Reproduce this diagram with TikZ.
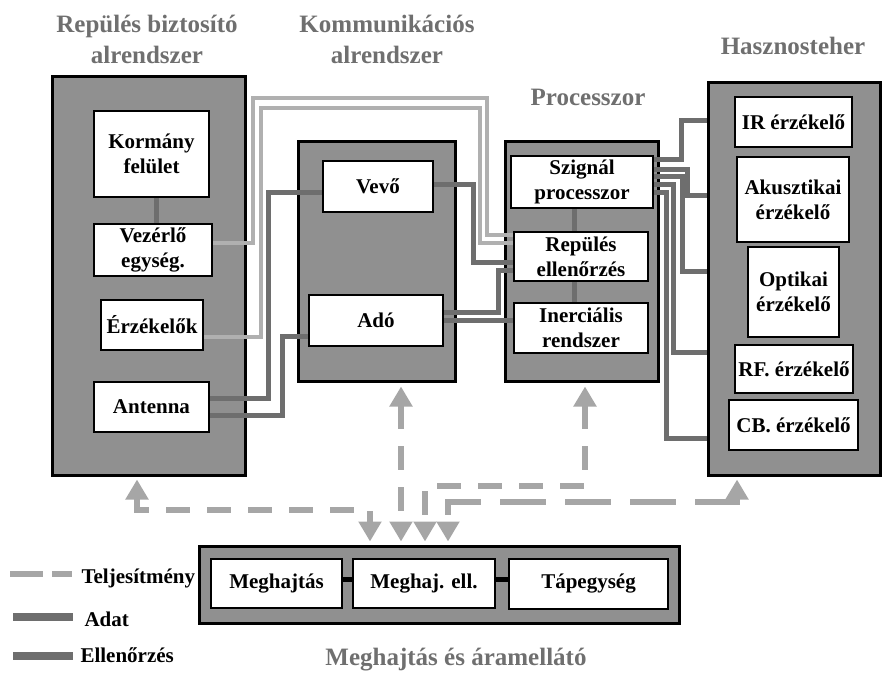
\documentclass[tikz,border=0pt]{standalone}
\usepackage{fontspec}
\setmainfont{Liberation Serif}
\usetikzlibrary{arrows.meta}
\definecolor{boxgray}{HTML}{909090}
\definecolor{darkline}{HTML}{6E6E6E}
\definecolor{lightline}{HTML}{B0B0B0}
\definecolor{powgray}{HTML}{A6A6A6}
\definecolor{titlegray}{HTML}{6F6F6F}
\begin{document}
\begin{tikzpicture}[x=1pt,y=-1pt,
  outerbox/.style={draw,line width=3pt,fill=boxgray,inner sep=0pt},
  innerbox/.style={draw,line width=2.5pt,fill=white,inner sep=0pt,align=center,
    font=\bfseries\fontsize{21}{25}\selectfont},
  grouptitle/.style={text=titlegray,align=center,font=\bfseries\fontsize{25}{31}\selectfont},
  legtext/.style={anchor=west,font=\bfseries\fontsize{21}{25}\selectfont},
  datline/.style={draw=darkline,line width=5pt},
  ctrlline/.style={draw=lightline,line width=4.5pt},
  powline/.style={draw=powgray,line width=6pt,dash pattern=on 24pt off 17pt,
    >={Triangle[length=20pt,width=22pt]},shorten <=3pt,shorten >=3pt}]
  \useasboundingbox (0,0) rectangle (886,692);

  \node[grouptitle] (tRep) at (147,39) {Repülés biztosító\\alrendszer};
  \node[grouptitle] (tKom) at (387,39) {Kommunikációs\\alrendszer};
  \node[grouptitle] (tProc) at (588,97) {Processzor};
  \node[grouptitle] (tHasz) at (793,46) {Hasznosteher};
  \node[grouptitle] (tMegh) at (456,660) {Meghajtás és áramellátó};

  \node[outerbox,minimum width=193pt,minimum height=398pt] (L) at (148.5,276) {};
  \node[outerbox,minimum width=157pt,minimum height=240pt] (M) at (376.5,262) {};
  \node[outerbox,minimum width=153pt,minimum height=240pt] (P) at (581.5,262) {};
  \node[outerbox,minimum width=172pt,minimum height=392pt] (H) at (794,279) {};
  \node[outerbox,minimum width=480pt,minimum height=77pt] (B) at (439,584.5) {};

  \node[innerbox,minimum width=115pt,minimum height=86pt] (kormany) at (151.5,154) {Kormány\\felület};
  \node[innerbox,minimum width=118pt,minimum height=52pt] (vezerlo) at (153,250) {Vezérlő\\egység.};
  \node[innerbox,minimum width=102pt,minimum height=50pt] (erzekelok) at (152,325) {Érzékelők};
  \node[innerbox,minimum width=115pt,minimum height=50pt] (antenna) at (151.5,407) {Antenna};

  \node[innerbox,minimum width=110pt,minimum height=51pt] (vevo) at (378,186.5) {Vevő};
  \node[innerbox,minimum width=134pt,minimum height=51pt] (ado) at (376,320.5) {Adó};

  \node[innerbox,minimum width=142pt,minimum height=52pt] (szignal) at (582,182) {Szignál\\processzor};
  \node[innerbox,minimum width=134pt,minimum height=49pt] (repules) at (581,256.5) {Repülés\\ellenőrzés};
  \node[innerbox,minimum width=134pt,minimum height=50pt] (inercialis) at (581,328) {Inerciális\\rendszer};

  \node[innerbox,minimum width=117pt,minimum height=50pt] (ir) at (793.5,122) {IR érzékelő};
  \node[innerbox,minimum width=112pt,minimum height=85pt] (akusztikai) at (793,199.5) {Akusztikai\\érzékelő};
  \node[innerbox,minimum width=91pt,minimum height=90pt] (optikai) at (793.5,292) {Optikai\\érzékelő};
  \node[innerbox,minimum width=118pt,minimum height=48pt] (rf) at (794,369) {RF. érzékelő};
  \node[innerbox,minimum width=129pt,minimum height=50pt] (cb) at (793.5,425) {CB. érzékelő};

  \node[innerbox,minimum width=131pt,minimum height=49pt] (meghajtas) at (276.5,583.5) {Meghajtás};
  \node[innerbox,minimum width=142pt,minimum height=49pt] (meghajell) at (424,583.5) {Meghaj. ell.};
  \node[innerbox,minimum width=159pt,minimum height=50pt] (tapegyseg) at (588.5,584) {Tápegység};

  \draw[datline] (kormany.south -| 156,0) -- (vezerlo.north -| 156,0);
  \draw[datline] (szignal.south -| 574,0) -- (repules.north -| 574,0);
  \draw[datline] (repules.south -| 574,0) -- (inercialis.north -| 574,0);
  \draw[draw=black,line width=5pt] (meghajtas.east |- 0,579) -- (meghajell.west |- 0,579);
  \draw[draw=black,line width=5pt] (meghajell.east |- 0,579) -- (tapegyseg.west |- 0,579);

  \draw[ctrlline] (vezerlo.east |- 0,243) -| (253,98) -| (487,235) -- (repules.west |- 0,235);
  \draw[ctrlline] (erzekelok.east |- 0,337) -| (261,108) -| (480,243) -- (repules.west |- 0,243);

  \draw[datline] (antenna.east |- 0,398) -| (268,193) -- (vevo.west |- 0,193);
  \draw[datline] (antenna.east |- 0,415) -| (282,337) -- (ado.west |- 0,337);
  \draw[datline] (vevo.east |- 0,185) -| (473,263) -- (repules.west |- 0,263);
  \draw[datline] (ado.east |- 0,313) -| (498,271) -- (repules.west |- 0,271);
  \draw[datline] (ado.east |- 0,321) -- (inercialis.west |- 0,321);

  \foreach \ys/\xv/\yt in {160/681/121, 170/687/196, 177/682/272, 185/673/353, 193/666/438}
    \draw[datline] (szignal.east |- 0,\ys) -| (\xv,\yt) -- (H.west |- 0,\yt);

  \draw[powline,<->] (L.south -| 137,0) |- (370,510) -- (B.north -| 370,0);
  \draw[powline,<->] (M.south -| 401,0) -- (B.north -| 401,0);
  \draw[powline,<->] (P.south -| 585,0) |- (425,486) -- (B.north -| 425,0);
  \draw[powline,<->,dash pattern=on 46pt off 19pt] (H.south -| 737,0) |- (448,502) -- (B.north -| 448,0);

  \node[legtext] (lgpow) at (78,578) {Teljesítmény};
  \node[legtext] (lgdat) at (81,619) {Adat};
  \node[legtext] (lgell) at (77,655) {Ellenőrzés};
  \draw[draw=powgray,line width=6pt,dash pattern=on 33pt off 9pt] ([xshift=-68pt]lgpow.west |- 0,574) -- ([xshift=-6pt]lgpow.west |- 0,574);
  \draw[draw=darkline,line width=8pt] ([xshift=-68pt]lgdat.west |- 0,617) -- ([xshift=-8pt]lgdat.west |- 0,617);
  \draw[draw=darkline,line width=8pt] ([xshift=-64pt]lgell.west |- 0,656) -- ([xshift=-4pt]lgell.west |- 0,656);
\end{tikzpicture}
\end{document}
